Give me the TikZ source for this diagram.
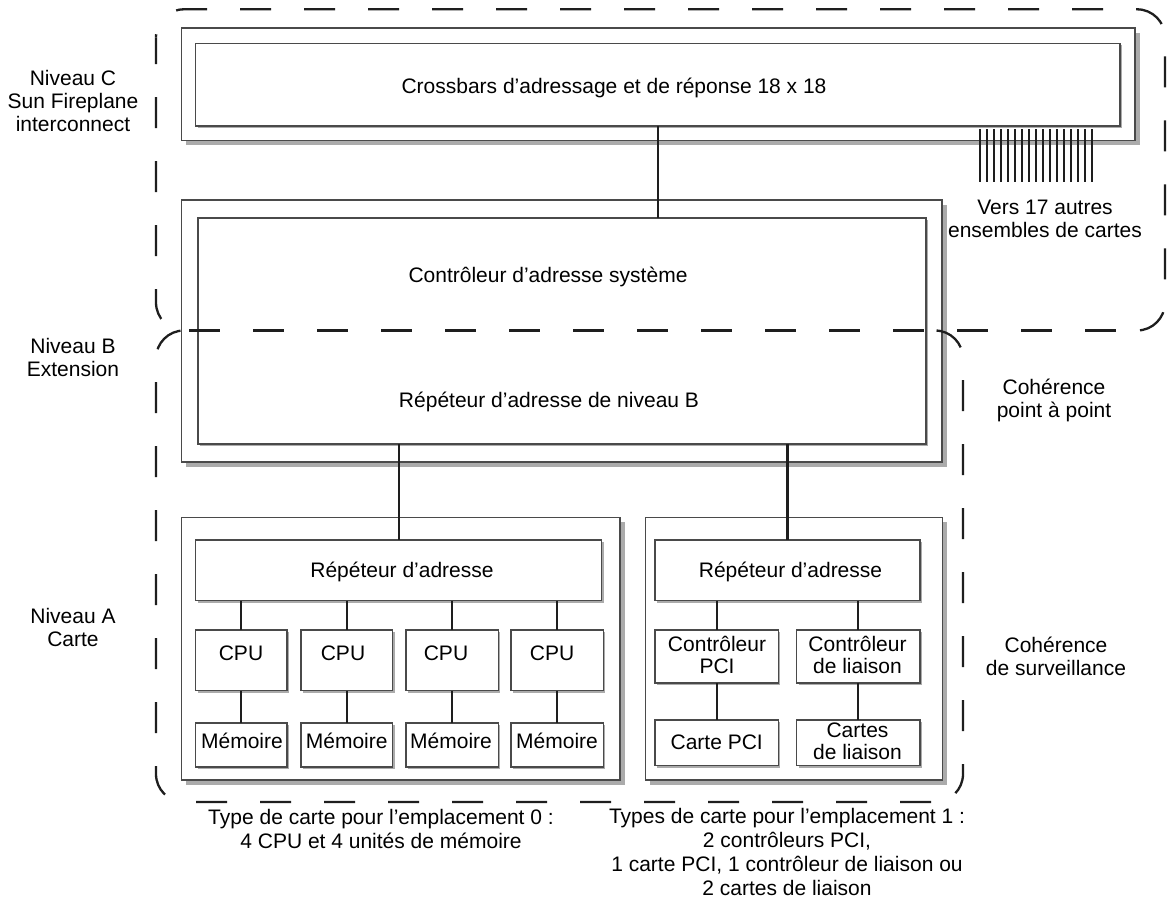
\documentclass[tikz,border=0pt]{standalone}
\usepackage{fontspec}
\setmainfont{Liberation Sans}
\usetikzlibrary{fit,shadows}
\definecolor{boxline}{HTML}{4A4A4A}
\definecolor{shadowgray}{HTML}{ABABAB}
\definecolor{connc}{HTML}{1E1E1E}
\newcommand\myfs[1]{\fontsize{21}{#1}\selectfont}
\begin{document}
\begin{tikzpicture}[x=1pt,y=-1pt,
  every node/.style={font=\myfs{23.5}},
  obox/.style={draw=boxline, line width=1.1pt, fill=white, inner sep=0pt, outer sep=0pt,
    drop shadow={shadow xshift=4.5pt, shadow yshift=-4.5pt, opacity=1, fill=shadowgray}},
  ibox/.style={draw=boxline, line width=1.1pt, fill=white, inner sep=0pt, outer sep=0pt,
    drop shadow={shadow xshift=2pt, shadow yshift=-2pt, opacity=1, fill=shadowgray}},
  conn/.style={line width=2.2pt, draw=connc},
  dsh/.style={line width=2.3pt, draw=connc, dash pattern=on 31pt off 33pt},
  txt/.style={inner sep=0pt, align=center, text=black},
]
\fill[white] (0,0) rectangle (1169,900);
\useasboundingbox (0,0) rectangle (1169,900);

% outer boxes
\node[obox, fit={(181.7,28) (1135,140.7)}] (cbo) {};
\node[obox, fit={(181.7,200) (942,462)}] (syso) {};
\node[obox, fit={(181.7,517.7) (620,780)}] (b0o) {};
\node[obox, fit={(645.7,517.7) (942.3,780)}] (b1o) {};

% inner boxes
\node[ibox, fit={(195.7,43.3) (1120,126)}] (cbi) {};
\node[ibox, fit={(198,218) (926,444)}] (sysi) {};
\node[ibox, fit={(195.7,540) (601.7,600.7)}] (rep0) {};
\node[ibox, fit={(195.7,630) (287,690.7)}] (cpu1) {};
\node[ibox, fit={(301,630) (392.7,690.7)}] (cpu2) {};
\node[ibox, fit={(406,630) (498.3,690.7)}] (cpu3) {};
\node[ibox, fit={(511,630) (603.3,690.7)}] (cpu4) {};
\node[ibox, fit={(195.7,723) (287,767)}] (mem1) {};
\node[ibox, fit={(301,723) (392.7,767)}] (mem2) {};
\node[ibox, fit={(406,723) (498.3,767)}] (mem3) {};
\node[ibox, fit={(511,723) (603.3,767)}] (mem4) {};
\node[ibox, fit={(655,540) (920,600.7)}] (rep1) {};
\node[ibox, fit={(655,630) (778.3,683)}] (pcic) {};
\node[ibox, fit={(796.7,630) (920,683)}] (linkc) {};
\node[ibox, fit={(655,720) (778.3,765.7)}] (pcicard) {};
\node[ibox, fit={(796.7,720) (920,765.7)}] (linkcards) {};

% connectors
\coordinate (xa) at (658,0);
\coordinate (xb) at (399,0);
\coordinate (xc) at (787.5,0);
\draw[conn] (xa |- cbi.south) -- (xa |- sysi.north);
\draw[conn] (xb |- sysi.south) -- (xb |- rep0.north);
\draw[conn] (xc |- sysi.south) -- (xc |- rep1.north);
\foreach \n in {1,2,3,4}{
  \draw[conn] (cpu\n.north |- rep0.south) -- (cpu\n.north);
  \draw[conn] (cpu\n.south) -- (mem\n.north);
}
\draw[conn] (pcic.north |- rep1.south) -- (pcic.north);
\draw[conn] (linkc.north |- rep1.south) -- (linkc.north);
\draw[conn] (pcic.south) -- (pcicard.north);
\draw[conn] (linkc.south) -- (linkcards.north);

% comb to the other board sets
\coordinate (comb) at (980,129);
\foreach \k in {0,...,16}{
  \draw[conn] ([xshift=\k*7pt]comb) -- ++(0,53);
}

% texts in boxes
\node[txt] (tcb) at (614,88) {Crossbars d’adressage et de réponse 18 x 18};
\node[txt] (tsys1) at (548,277) {Contrôleur d’adresse système};
\node[txt] (tsys2) at (549,402) {Répéteur d’adresse de niveau B};
\node[txt] (trep0) at (402,572) {Répéteur d’adresse};
\node[txt] (trep1) at (790.5,572) {Répéteur d’adresse};
\node[txt] (tcpu1) at (241,653) {CPU};
\node[txt] (tcpu2) at (343,653) {CPU};
\node[txt] (tcpu3) at (446,653) {CPU};
\node[txt] (tcpu4) at (552,653) {CPU};
\node[txt] (tmem1) at (242,741) {Mémoire};
\node[txt] (tmem2) at (346.7,741) {Mémoire};
\node[txt] (tmem3) at (451,741) {Mémoire};
\node[txt] (tmem4) at (557,741) {Mémoire};
\node[txt, font=\myfs{21.5}] (tpcic) at (717,655) {Contrôleur\\PCI};
\node[txt, font=\myfs{21.5}] (tlinkc) at (857.5,655) {Contrôleur\\de liaison};
\node[txt] (tpcicard) at (716.7,742) {Carte PCI};
\node[txt, font=\myfs{22}] (tlinkcards) at (857.5,741) {Cartes\\de liaison};

% side labels
\node[txt, font=\myfs{23}] (lvc) at (73,101) {Niveau C\\Sun Fireplane\\interconnect};
\node[txt, font=\myfs{23}] (lvb) at (73,357.5) {Niveau B\\Extension};
\node[txt, font=\myfs{23}] (lva) at (73,627) {Niveau A\\Carte};
\node[txt, font=\myfs{23}] (lvers) at (1045,218.5) {Vers 17 autres\\ensembles de cartes};
\node[txt, font=\myfs{23}] (lcoh1) at (1054,400) {Cohérence\\point à point};
\node[txt, font=\myfs{23}] (lcoh2) at (1056,656) {Cohérence\\de surveillance};
\node[txt, font=\myfs{24}] (lslot0) at (381,829) {Type de carte pour l’emplacement 0 :\\4 CPU et 4 unités de mémoire};
\node[txt, font=\myfs{23.7}] (lslot1) at (787,852) {Types de carte pour l’emplacement 1 :\\2 contrôleurs PCI,\\1 carte PCI, 1 contrôleur de liaison ou\\2 cartes de liaison};

% dashed domains
\draw[dsh, dash phase=28pt, rounded corners=28pt] (156,37.3) -- (156,9.3) -- (1165,9.3) -- (1165,330.5) -- (1137,330.5);
\draw[dsh, dash phase=4.3pt, rounded corners=28pt] (156,37.3) -- (156,330.5) -- (184,330.5);
\draw[dsh, dash phase=59pt] (184,330.5) -- (1137,330.5);
\draw[dsh, dash phase=60.5pt, rounded corners=28pt] (184,330.5) -- (156,330.5) -- (156,802) -- (935,802);
\draw[dsh, dash phase=62.5pt, rounded corners=28pt] (935,330.5) -- (963,330.5) -- (963,802) -- (935,802);
\end{tikzpicture}
\end{document}
